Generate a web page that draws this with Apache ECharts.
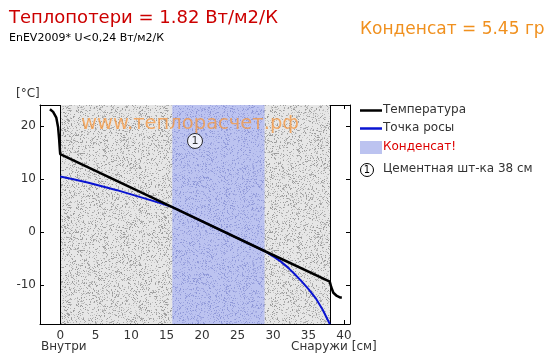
<!DOCTYPE html>
<html><head><meta charset="utf-8">
<script src="https://cdn.jsdelivr.net/npm/echarts@6/dist/echarts.min.js"></script>
<style>html,body{margin:0;padding:0;background:#fff}#c{width:548px;height:357px}</style>
</head><body><div id="c"></div>
<script>
// ---- data ----
var tempX = [-1.45, -1.0, -0.55, -0.3, -0.15, -0.05, 0, 15.8, 28.8, 38, 38.2, 38.5, 39.0, 39.5, 39.7];
var tempY = [23.2, 22.7, 21.6, 19.8, 17.5, 15.5, 14.7, 4.7, -3.6, -9.4, -10.4, -11.5, -12.1, -12.4, -12.4];
var dewX = [0, 2, 4, 6, 8, 10, 12, 14, 15.8, 28.8, 30, 31, 32, 33, 34, 35, 36, 37, 38];
var dewY = [10.5, 9.9, 9.3, 8.6, 7.9, 7.1, 6.3, 5.5, 4.7, -3.6, -4.6, -5.5, -6.6, -7.9, -9.3, -10.8, -12.5, -14.7, -17.4];
var wallRange = [0, 38];
var condRange = [15.8, 28.8];
var layerMarker = [19, 17.2];
var xTicks = [0, 5, 10, 15, 20, 25, 30, 35, 40];
var yTicks = [-10, 0, 10, 20];
var titleText = 'Теплопотери = 1.82 Вт/м2/К';
var subText = 'EnEV2009* U<0,24 Вт/м2/К';
var condText = 'Конденсат = 5.45 гр';
var legendNames = ['Температура', 'Точка росы', 'Конденсат!', 'Цементная шт-ка 38 см'];

function pairs(xs, ys){ return xs.map(function(x,i){return [x, ys[i]];}); }

function noise(base, dots, seed){
  var c = document.createElement('canvas'); c.width = 97; c.height = 97;
  var g = c.getContext('2d'); g.fillStyle = base; g.fillRect(0,0,97,97);
  var s = seed;
  function r(){ s = (s * 1103515245 + 12345) % 2147483648; return s / 2147483648; }
  for (var i=0;i<2400;i++){
    var x = Math.floor(r()*97), y = Math.floor(r()*97);
    g.fillStyle = dots[Math.floor(r()*dots.length)];
    g.fillRect(x,y,1,1);
  }
  return {image: c, repeat: 'repeat'};
}
var greyPat = noise('#e6e6e6', ['#a8a8a8','#b8b8b8','#c8c8c8','#9a9a9a'], 7);
var bluePat = noise('#bcc3f0', ['#9ea6e0','#aab1e6','#8f98d8'], 11);

var FONT = 'DejaVu Sans';
var X0 = -2.85, X1 = 40.85, Y0 = -17.4, Y1 = 24;
function fmt(list){ return function(v){ return list.indexOf(Math.round(v*1000)/1000) >= 0 ? String(v) : ''; }; }

var chart = echarts.init(document.getElementById('c'), null, {renderer:'canvas'});
var axisCommon = {
  axisLine: {show:true, onZero:false, lineStyle:{color:'#000', width:1}},
  axisTick: {show:true, inside:true, length:4, lineStyle:{color:'#000'}},
  splitLine: {show:false}
};
chart.setOption({
  animation: false,
  textStyle: {fontFamily: FONT},
  grid: {left:40, top:105, right:198, bottom:33, containLabel:false},
  xAxis: [
    Object.assign({type:'value', position:'bottom', min:X0, max:X1, splitNumber:9,
      axisLabel:{show:true, margin:6, color:'#333', fontSize:12, fontFamily:FONT, formatter: fmt(xTicks), showMinLabel:false, showMaxLabel:false}}, axisCommon),
    Object.assign({type:'value', position:'top', min:X0, max:X1, splitNumber:9, axisLabel:{show:false}}, axisCommon)
  ],
  yAxis: [
    Object.assign({type:'value', position:'left', min:Y0, max:Y1, splitNumber:4,
      axisLabel:{show:true, margin:4, color:'#333', fontSize:12, fontFamily:FONT, formatter: fmt(yTicks), showMinLabel:false, showMaxLabel:false}}, axisCommon),
    Object.assign({type:'value', position:'right', min:Y0, max:Y1, splitNumber:4, axisLabel:{show:false}}, axisCommon)
  ],
  series: [
    {type:'line', data:[], z:1, silent:true,
     markArea:{silent:true, itemStyle:{color:greyPat}, data:[[{xAxis:wallRange[0]},{xAxis:wallRange[1]}]]},
     markLine:{silent:true, symbol:'none', label:{show:false}, lineStyle:{color:'#000', width:1, type:'solid'},
       data:[{xAxis:wallRange[0]},{xAxis:wallRange[1]}]}},
    {type:'line', data:[], z:2, silent:true,
     markArea:{silent:true, itemStyle:{color:bluePat}, data:[[{xAxis:condRange[0]},{xAxis:condRange[1]}]]}},
    {type:'line', name:legendNames[1], data:pairs(dewX, dewY), showSymbol:false, symbol:'none', z:5,
     lineStyle:{color:'#0a14d2', width:2}, clip:true},
    {type:'line', name:legendNames[0], data:pairs(tempX, tempY), showSymbol:false, symbol:'none', z:6,
     lineStyle:{color:'#000', width:2.5}},
    {type:'scatter', data:[layerMarker], symbol:'circle', symbolSize:15, z:7,
     itemStyle:{color:'#fff', borderColor:'#000', borderWidth:1},
     label:{show:true, position:'inside', formatter:'1', color:'#000', fontSize:11, fontFamily:FONT}}
  ],
  graphic: [
    {type:'text', left:9, top:9, style:{text:titleText, font:'18px "DejaVu Sans"', fill:'#cc0000'}},
    {type:'text', left:9, top:33, style:{text:subText, font:'11px "DejaVu Sans"', fill:'#000'}},
    {type:'text', left:360, top:21, style:{text:condText, font:'17px "DejaVu Sans"', fill:'#f0901e'}},
    {type:'text', left:81, top:114, z:4, style:{text:'www.теплорасчет.рф', font:'19.5px "DejaVu Sans"', fill:'rgba(245,150,60,0.75)'}},
    {type:'text', left:16, top:88, style:{text:'[°C]', font:'12px "DejaVu Sans"', fill:'#333'}},
    {type:'text', left:41, top:341, style:{text:'Внутри', font:'12px "DejaVu Sans"', fill:'#333'}},
    {type:'text', left:291, top:341, style:{text:'Снаружи [см]', font:'12px "DejaVu Sans"', fill:'#333'}},
    {type:'line', shape:{x1:360, y1:110.5, x2:382, y2:110.5}, style:{stroke:'#000', lineWidth:2.5}},
    {type:'text', left:383, top:104, style:{text:legendNames[0], font:'12px "DejaVu Sans"', fill:'#333'}},
    {type:'line', shape:{x1:360, y1:128.5, x2:382, y2:128.5}, style:{stroke:'#0a14d2', lineWidth:2.5}},
    {type:'text', left:383, top:122, style:{text:legendNames[1], font:'12px "DejaVu Sans"', fill:'#333'}},
    {type:'rect', shape:{x:360, y:141, width:22, height:13}, style:{fill:'#bcc3f0'}},
    {type:'text', left:383, top:141, style:{text:legendNames[2], font:'12px "DejaVu Sans"', fill:'#dd0000'}},
    {type:'circle', shape:{cx:367, cy:170, r:6.5}, style:{fill:'#fff', stroke:'#000', lineWidth:1}},
    {type:'text', x:367, y:170.5, style:{text:'1', font:'10px "DejaVu Sans"', fill:'#000', textAlign:'center', textVerticalAlign:'middle'}},
    {type:'text', left:383, top:163, style:{text:legendNames[3], font:'12px "DejaVu Sans"', fill:'#333'}}
  ]
});
</script></body></html>
